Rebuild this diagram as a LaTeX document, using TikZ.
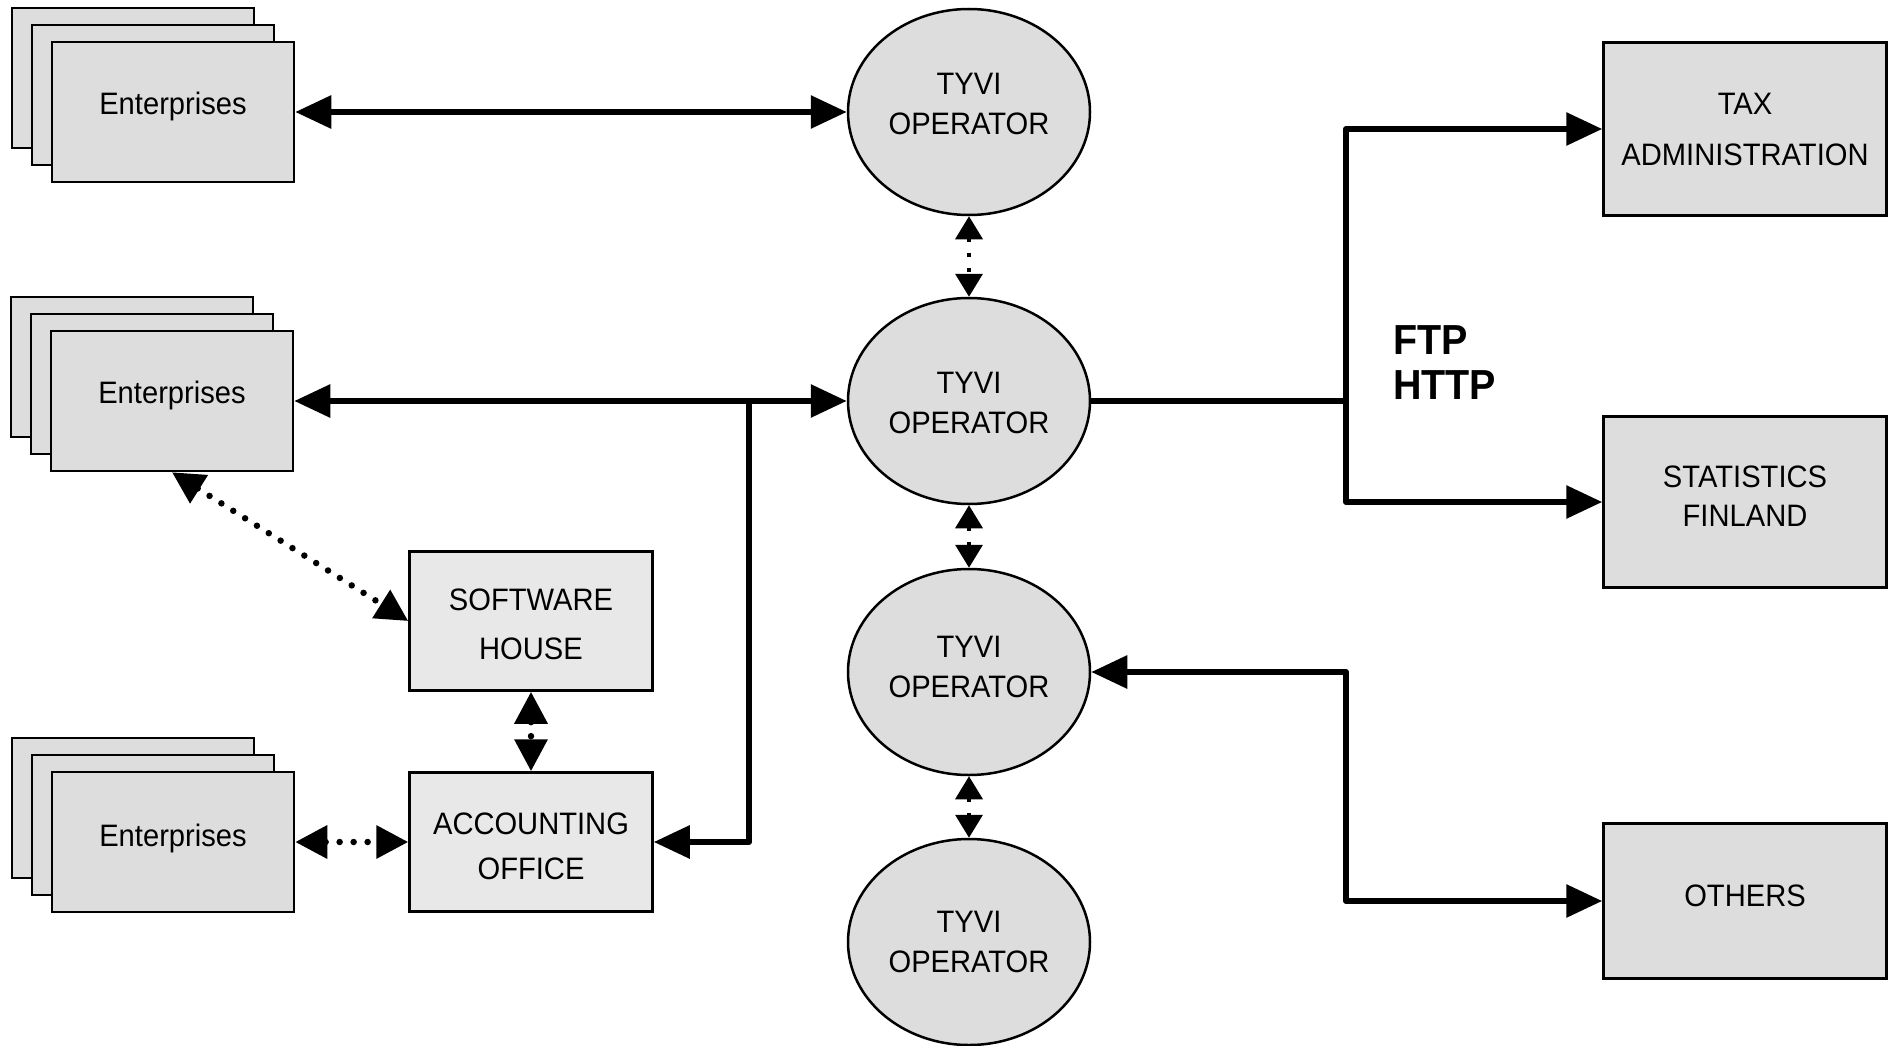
\documentclass[tikz,border=0pt]{standalone}
\usepackage{fontspec}
\setmainfont{Liberation Sans}[FakeStretch=0.94]
\usetikzlibrary{arrows.meta,shapes.geometric}
\definecolor{boxgray}{HTML}{DDDDDD}
\definecolor{lightfill}{HTML}{E8E8E8}
\newcommand\diagtxt{\fontsize{31}{42}\selectfont}
\newcommand\liftt[2]{\raisebox{#1}[\height][\depth]{#2}}
\begin{document}
\begin{tikzpicture}[x=1pt,y=-1pt,
  box/.style={draw=black, line width=2.5pt, fill=boxgray, minimum width=242pt, minimum height=140pt, inner sep=0pt, align=center, font=\diagtxt},
  lbox/.style={box, fill=lightfill, minimum width=243pt, minimum height=139pt},
  rbox/.style={box, minimum width=283pt},
  op/.style={ellipse, draw=black, line width=2.5pt, fill=boxgray, minimum width=242pt, minimum height=206pt, inner sep=0pt, align=center, font=\diagtxt},
  thk/.style={line width=6pt, line join=round, >={Triangle[length=36pt,width=32pt]}},
  dsh/.style={line width=3.5pt, dash pattern=on 4pt off 11pt, >={Triangle[length=23pt,width=27pt]}},
  dots/.style={line width=6.5pt, line cap=round, dash pattern=on 0pt off 14pt, >={Triangle[length=32pt,width=32pt]}}
]
\useasboundingbox (0,0) rectangle (1890,1046);

% Enterprises stacks
\node[box] (e1c) at (133,78) {};
\node[box] (e1b) at (153,95) {};
\node[box] (e1) at (173,112) {\liftt{6pt}{Enterprises}};
\node[box] (e2c) at (132,367) {};
\node[box] (e2b) at (152,384) {};
\node[box] (e2) at (172,401) {\liftt{6pt}{Enterprises}};
\node[box] (e3c) at (133,808) {};
\node[box] (e3b) at (153,825) {};
\node[box] (e3) at (173,842) {\liftt{4pt}{Enterprises}};

% Software house and accounting
\node[lbox] (sw) at (531,621) {\liftt{-3pt}{SOFTWARE}\\[7pt]\liftt{-3pt}{HOUSE}};
\node[lbox] (acc) at (531,842) {\liftt{-4pt}{ACCOUNTING}\\[3pt]\liftt{-4pt}{OFFICE}};

% Operators
\node[op] (op1) at (969,112) {\liftt{8pt}{TYVI}\\[-2pt]\liftt{8pt}{OPERATOR}};
\node[op] (op2) at (969,401) {\liftt{-2pt}{TYVI}\\[-2pt]\liftt{-2pt}{OPERATOR}};
\node[op] (op3) at (969,672) {\liftt{5pt}{TYVI}\\[-2pt]\liftt{5pt}{OPERATOR}};
\node[op] (op4) at (969,942) {TYVI\\[-2pt]OPERATOR};

% Right boxes
\node[rbox, minimum height=173pt] (tax) at (1745,129) {TAX\\[9pt]ADMINISTRATION};
\node[rbox, minimum height=171pt] (stat) at (1745,502) {\liftt{6pt}{STATISTICS}\\[-3pt]\liftt{6pt}{FINLAND}};
\node[rbox, minimum height=155pt] (oth) at (1745,901) {\liftt{5pt}{OTHERS}};

% FTP HTTP label
\node[anchor=north west, inner sep=0pt, align=left, font=\fontsize{42}{45}\selectfont\bfseries] (ftp) at (1393,325) {FTP\\HTTP};

% Solid connectors
\draw[thk,<->] (e1.east) -- (op1.west);
\draw[thk,<->] (e2.east) -- (op2.west);
\coordinate (j1) at (749,401);
\draw[thk,->] (j1) |- (acc.east);
\coordinate (j2) at (1346,401);
\draw[thk] (op2.east) -- (j2);
\draw[thk,->] (j2) |- (tax.west);
\draw[thk,->] (j2) |- (stat.west);
\coordinate (j3) at (1346,672);
\draw[thk,<->] (op3.east) -- (j3) |- (oth.west);

% Dashed between operators
\draw[dsh,<->] (op1.south) -- (op2.north);
\draw[dsh,<->] (op2.south) -- (op3.north);
\draw[dsh,<->] (op3.south) -- (op4.north);

% Dotted connectors
\draw[dots,<->] (e2.south) -- (sw.west);
\draw[dots,<->] (sw.south) -- (acc.north);
\draw[dots,<->] (e3.east) -- (acc.west);
\end{tikzpicture}
\end{document}
